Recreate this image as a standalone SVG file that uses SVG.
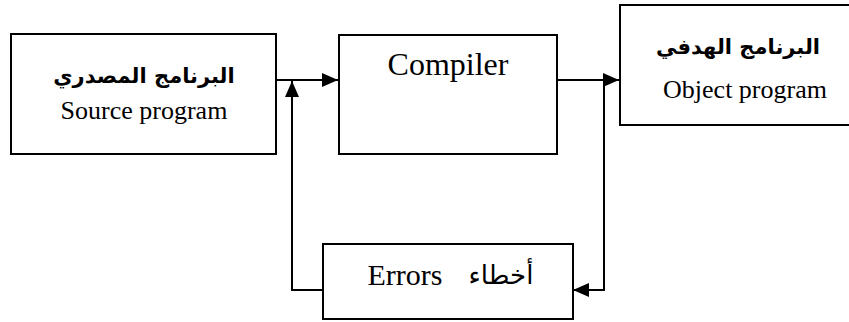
<svg xmlns="http://www.w3.org/2000/svg" width="849" height="322" viewBox="0 0 849 322">
<style>
.box{fill:#fff;stroke:#000;stroke-width:2}
.ln{fill:none;stroke:#000;stroke-width:2}
.en{font-family:"Liberation Serif","Times New Roman",serif;fill:#000;text-anchor:middle}
.ar{font-family:"DejaVu Sans","Liberation Serif",serif;fill:#000;text-anchor:middle}
</style>
<defs>
<marker id="ah" viewBox="0 0 16 14" refX="16" refY="7" markerWidth="16" markerHeight="14" markerUnits="userSpaceOnUse" orient="auto">
<path d="M0,0 L16,7 L0,14 Z" fill="#000"/>
</marker>
</defs>
<g id="source">
<rect class="box" x="11" y="34" width="265" height="120"/>
<text class="ar" x="144" y="83" font-size="21" font-weight="bold" direction="rtl">البرنامج المصدري</text>
<text class="en" x="144" y="119" font-size="26">Source program</text>
</g>
<g id="compiler">
<rect class="box" x="339" y="35" width="218" height="119"/>
<text class="en" x="448" y="75" font-size="32">Compiler</text>
</g>
<g id="object">
<rect class="box" x="620" y="5" width="232" height="120"/>
<text class="ar" x="738" y="54" font-size="21" font-weight="bold" direction="rtl">البرنامج الهدفي</text>
<text class="en" x="745" y="98" font-size="26">Object program</text>
</g>
<g id="errors">
<rect class="box" x="323" y="244" width="250" height="75"/>
<text class="en" x="405" y="285" font-size="30">Errors</text>
<text class="ar" x="501" y="284" font-size="26" direction="rtl">أخطاء</text>
</g>
<g id="connectors">
<path class="ln" d="M276,80 L338,80" marker-end="url(#ah)"/>
<path class="ln" d="M557,80 L619,80" marker-end="url(#ah)"/>
<path class="ln" d="M604,80 L604,290 L573,290" marker-end="url(#ah)"/>
<path class="ln" d="M323,290 L292,290 L292,81" marker-end="url(#ah)"/>
</g>
</svg>
